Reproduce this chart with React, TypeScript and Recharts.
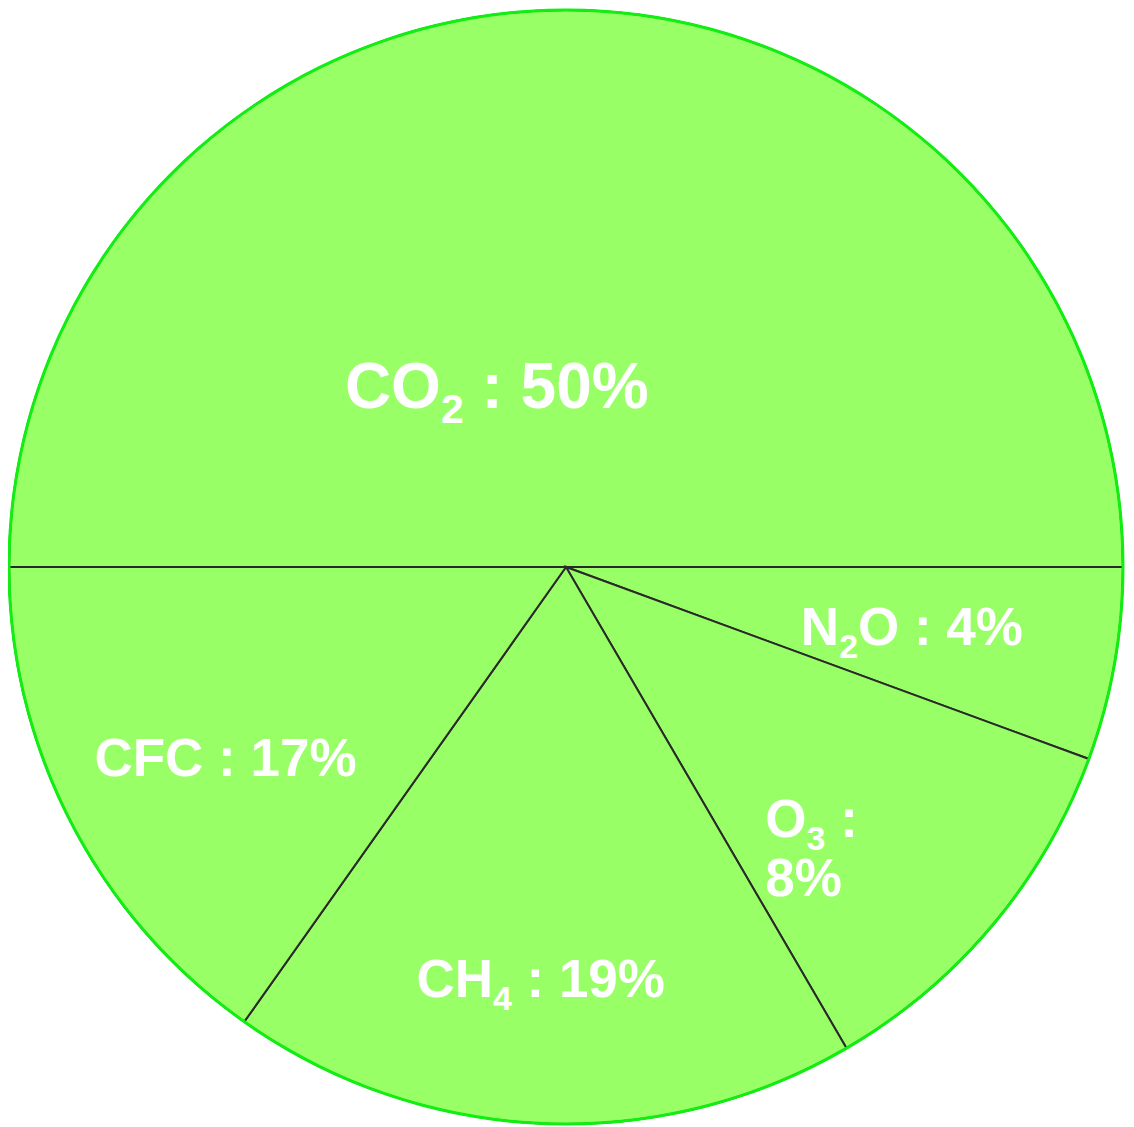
import React from 'react';
import { PieChart, Pie, Cell } from 'recharts';

const GASES = ['CO2', 'N2O', 'O3', 'CH4', 'CFC'];
// share of the circle each slice takes as drawn (%)
const SLICE_SHARE = [50, 5.6, 11.0, 18.2, 15.2];
// percent printed in each label
const LABEL_PERCENT = [50, 4, 8, 19, 17];

const DATA = GASES.map((g, i) => ({ name: g, value: SLICE_SHARE[i], pct: LABEL_PERCENT[i] }));
const OUTLINE = [{ name: 'edge', value: 1 }];

const W = 1126;
const H = 1119;
const CX = 558;
const CY = 559;
const R = 557;

const FILL = '#99ff66';
const EDGE = '#11ee11';
const LINE = '#2a2a2a';
const FONT = '"Liberation Sans", Arial, sans-serif';

// label placement: radius as fraction of R, nudge in screen degrees (clockwise)
const LABEL_POS = [
  { r: 0.35, nudge: -20.8, size: 64, wrap: false },
  { r: 0.63, nudge: -0.4, size: 53, wrap: false },
  { r: 0.67, nudge: 8.8, size: 53, wrap: true },
  { r: 0.74, nudge: 1.0, size: 53, wrap: false },
  { r: 0.7, nudge: -1.8, size: 53, wrap: false },
];

type Seg = { text: string; sub: boolean };

const formulaSegs = (name: string): Seg[] =>
  name
    .split(/(\d+)/)
    .filter((s) => s.length > 0)
    .map((s) => ({ text: s, sub: /^\d+$/.test(s) }));

const renderSegs = (segs: Seg[], size: number) => {
  const shift = size * 0.24;
  let down = false;
  return segs.map((s, i) => {
    let dy = 0;
    if (s.sub && !down) {
      dy = shift;
      down = true;
    } else if (!s.sub && down) {
      dy = -shift;
      down = false;
    }
    return (
      <tspan key={i} dy={dy || undefined} fontSize={s.sub ? size * 0.64 : size}>
        {s.text}
      </tspan>
    );
  });
};

const renderLabel = (props: any) => {
  const name = props.payload?.name ?? props.name;
  const idx = GASES.indexOf(name);
  if (idx < 0) return null;
  const pos = LABEL_POS[idx];
  const ang = ((-props.midAngle + pos.nudge) * Math.PI) / 180;
  const rr = props.outerRadius * pos.r;
  const x = props.cx + rr * Math.cos(ang);
  const y = props.cy + rr * Math.sin(ang);
  const size = pos.size;
  const f = formulaSegs(name);
  const pct = `${LABEL_PERCENT[idx]}%`;
  const lines: Seg[][] = pos.wrap
    ? [[...f, { text: ' :', sub: false }], [{ text: pct, sub: false }]]
    : [[...f, { text: ` : ${pct}`, sub: false }]];
  const cap = size * 0.716;
  const lineH = size * 1.1;
  const blockH = cap + (lines.length - 1) * lineH;
  const y0 = y - blockH / 2 + cap;
  // wrapped labels are left aligned on the first line's start
  const x0 = pos.wrap ? x - size * 0.88 : x;
  return (
    <g key={`lbl-${idx}`}>
      {lines.map((segs, li) => (
        <text
          key={li}
          x={x0}
          y={y0 + li * lineH}
          textAnchor={pos.wrap ? 'start' : 'middle'}
          fill="#ffffff"
          fontWeight="bold"
          fontFamily={FONT}
          fontSize={size}
        >
          {renderSegs(segs, size)}
        </text>
      ))}
    </g>
  );
};

export default function App() {
  return (
    <div style={{ width: W, height: H, background: '#ffffff' }}>
      <PieChart width={W} height={H} margin={{ top: 0, right: 0, bottom: 0, left: 0 }}>
        <Pie
          data={DATA}
          dataKey="value"
          nameKey="name"
          cx={CX}
          cy={CY}
          outerRadius={R}
          startAngle={180}
          endAngle={-180}
          stroke={LINE}
          strokeWidth={2}
          label={renderLabel}
          labelLine={false}
          isAnimationActive={false}
        >
          {DATA.map((d) => (
            <Cell key={d.name} fill={FILL} stroke={LINE} strokeWidth={2} />
          ))}
        </Pie>
        <Pie
          data={OUTLINE}
          dataKey="value"
          cx={CX}
          cy={CY}
          innerRadius={R - 1.5}
          outerRadius={R + 1.5}
          startAngle={180}
          endAngle={-180}
          fill={EDGE}
          stroke="none"
          isAnimationActive={false}
        />
      </PieChart>
    </div>
  );
}
